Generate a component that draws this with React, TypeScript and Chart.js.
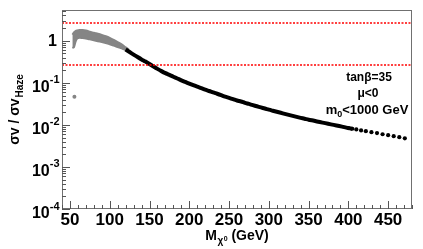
import React, { useEffect, useRef } from 'react';
import { Chart, registerables } from 'chart.js';

Chart.register(...registerables);

// ---- data ----
const xTicks = [50, 100, 150, 200, 250, 300, 350, 400, 450];
const yTickExps = [-4, -3, -2, -1, 0];
const xMin = 40;
const xMax = 480;
const yMin = 1e-4;
const yMax = 5.4;

// grey band (earlier points) : edges of the dense cloud
const bandMass = [53, 55, 57, 59, 62, 66, 70, 75, 80, 85, 90, 95, 100, 105, 110, 115, 120, 124];
const bandUpper = [1.4, 1.58, 1.7, 1.76, 1.8, 1.8, 1.75, 1.65, 1.55, 1.47, 1.38, 1.28, 1.17, 1.05, 0.93, 0.82, 0.7, 0.62];
const bandLower = [0.68, 0.7, 0.95, 1.13, 1.18, 1.16, 1.13, 1.08, 1.03, 0.98, 0.93, 0.88, 0.83, 0.77, 0.71, 0.66, 0.6, 0.56];

// single grey outlier
const outlierMass = [55.6];
const outlierVal = [0.047];

// black points: dense part (merged into a thick line) and sparse tail
const curveMass = [
  120, 125, 130, 135, 140, 145, 150, 155, 160, 165, 170, 175, 180, 185, 190, 195, 200, 205, 210, 215,
  220, 225, 230, 235, 240, 245, 250, 255, 260, 265, 270, 275, 280, 285, 290, 295, 300, 305, 310, 315,
  320, 325, 330, 335, 340, 345, 350, 357, 364, 371, 378, 385, 392, 399, 405,
];
const curveVal = [
  0.62, 0.54, 0.47, 0.41, 0.36, 0.32, 0.28, 0.245, 0.215, 0.19, 0.17, 0.155, 0.14, 0.127, 0.115, 0.105, 0.096, 0.088, 0.081, 0.075,
  0.069, 0.064, 0.059, 0.055, 0.051, 0.047, 0.044, 0.041, 0.038, 0.036, 0.0335, 0.0315, 0.0295, 0.0277, 0.026, 0.0245, 0.023, 0.0217, 0.0205, 0.0194,
  0.0183, 0.0173, 0.0164, 0.0155, 0.0147, 0.014, 0.0133, 0.0125, 0.0117, 0.011, 0.0103, 0.0097, 0.0091, 0.0085, 0.0081,
];
const tailMass = [400, 405, 410, 416, 422, 429, 436, 443, 450, 457, 464, 471];
const tailVal = [0.0084, 0.0081, 0.0078, 0.0074, 0.0071, 0.0067, 0.0064, 0.006, 0.0057, 0.0054, 0.0051, 0.0048];

// reference (red dotted) levels
const refLevels = [2.6, 0.26];

const yTitleMain = 'σv / σv';
const yTitleSub = 'Haze';
const xTitleMain = 'M';
const xTitleSub = 'χ';
const xTitleSup = '0';
const xTitleRest = ' (GeV)';
const annoLine1 = 'tanβ=35';
const annoLine2 = 'μ<0';
const annoLine3a = 'm';
const annoLine3sub = '0';
const annoLine3b = '<1000 GeV';

const FONT = '"Liberation Sans", Arial, Helvetica, sans-serif';
const GREY = '#858585';

const refLinePlugin = {
  id: 'refLines',
  afterDatasetsDraw(chart: any) {
    const ctx = chart.ctx as CanvasRenderingContext2D;
    const xs = chart.scales.x;
    const ys = chart.scales.y;
    ctx.save();
    ctx.strokeStyle = 'rgb(255, 0, 0)';
    ctx.lineWidth = 1.6;
    ctx.setLineDash([2, 1.5]);
    for (const lv of refLevels) {
      const py = Math.round(ys.getPixelForValue(lv));
      ctx.beginPath();
      ctx.moveTo(xs.getPixelForValue(xMin), py);
      ctx.lineTo(xs.getPixelForValue(xMax), py);
      ctx.stroke();
    }
    ctx.restore();
  },
};

const decorPlugin = {
  id: 'decor',
  afterDraw(chart: any) {
    const ctx = chart.ctx as CanvasRenderingContext2D;
    const { left, right, top, bottom } = chart.chartArea;
    const xs = chart.scales.x;
    const ys = chart.scales.y;
    ctx.save();

    // frame
    ctx.strokeStyle = '#707070';
    ctx.lineWidth = 1;
    ctx.strokeRect(left + 0.5, top + 0.5, right - left - 1, bottom - top - 1);

    // x ticks (inside)
    ctx.strokeStyle = '#555';
    ctx.beginPath();
    for (let v = xMin; v <= xMax; v += 10) {
      const px = Math.round(xs.getPixelForValue(v)) + 0.5;
      const len = v % 50 === 0 ? 8 : 4;
      ctx.moveTo(px, bottom);
      ctx.lineTo(px, bottom - len);
    }
    // y ticks (inside)
    for (const e of yTickExps) {
      for (let k = 1; k <= 9; k++) {
        const val = k * Math.pow(10, e);
        if (val < yMin || val > yMax) continue;
        const py = Math.round(ys.getPixelForValue(val)) + 0.5;
        const len = k === 1 ? 8 : 4;
        ctx.moveTo(left, py);
        ctx.lineTo(left + len, py);
      }
    }
    ctx.stroke();

    // y labels
    ctx.fillStyle = '#000';
    ctx.textBaseline = 'middle';
    ctx.textAlign = 'right';
    for (const e of yTickExps) {
      const py = ys.getPixelForValue(Math.pow(10, e));
      if (e === 0) {
        ctx.font = `bold 16px ${FONT}`;
        ctx.fillText('1', 57, py + 1);
      } else {
        const expStr = String(e);
        ctx.font = `bold 11px ${FONT}`;
        const ew = ctx.measureText(expStr).width;
        ctx.fillText(expStr, 59.5, py - 2.5);
        ctx.font = `bold 16px ${FONT}`;
        ctx.fillText('10', 59.5 - ew, py + 4.5);
      }
    }

    // y title (rotated)
    ctx.save();
    ctx.translate(18.5, (top + bottom) / 2);
    ctx.rotate(-Math.PI / 2);
    ctx.textAlign = 'left';
    ctx.textBaseline = 'alphabetic';
    ctx.font = `bold 14px ${FONT}`;
    const mw = ctx.measureText(yTitleMain).width;
    ctx.font = `bold 10px ${FONT}`;
    const sw = ctx.measureText(yTitleSub).width;
    const tot = mw + sw + 1;
    ctx.font = `bold 14px ${FONT}`;
    ctx.fillText(yTitleMain, -tot / 2, 0);
    ctx.font = `bold 10px ${FONT}`;
    ctx.fillText(yTitleSub, -tot / 2 + mw + 1, 4);
    ctx.restore();

    // x title
    ctx.textAlign = 'left';
    ctx.textBaseline = 'alphabetic';
    ctx.font = `bold 14px ${FONT}`;
    const w1 = ctx.measureText(xTitleMain).width;
    const w4 = ctx.measureText(xTitleRest).width;
    ctx.font = `bold 10px ${FONT}`;
    const w2 = ctx.measureText(xTitleSub).width;
    ctx.font = `bold 7px ${FONT}`;
    const w3 = ctx.measureText(xTitleSup).width;
    const xt = w1 + w2 + w3 + w4 + 1;
    let cx = (left + right) / 2 - xt / 2;
    const base = 240;
    ctx.font = `bold 14px ${FONT}`;
    ctx.fillText(xTitleMain, cx, base);
    cx += w1 + 0.5;
    ctx.font = `bold 10px ${FONT}`;
    ctx.fillText(xTitleSub, cx, base + 4);
    cx += w2 + 0.5;
    ctx.font = `bold 7px ${FONT}`;
    ctx.fillText(xTitleSup, cx, base + 0.5);
    cx += w3;
    ctx.font = `bold 14px ${FONT}`;
    ctx.fillText(xTitleRest, cx, base);

    // annotation
    const ax = 367;
    ctx.textAlign = 'center';
    ctx.font = `bold 12px ${FONT}`;
    ctx.fillText(annoLine1, ax + 2, 81);
    ctx.fillText(annoLine2, ax + 1, 97);
    ctx.font = `bold 13px ${FONT}`;
    const a1 = ctx.measureText(annoLine3a).width;
    const a3 = ctx.measureText(annoLine3b).width;
    ctx.font = `bold 9px ${FONT}`;
    const a2 = ctx.measureText(annoLine3sub).width;
    let tx = ax - (a1 + a2 + a3) / 2;
    ctx.textAlign = 'left';
    ctx.font = `bold 13px ${FONT}`;
    ctx.fillText(annoLine3a, tx, 113.5);
    tx += a1;
    ctx.font = `bold 9px ${FONT}`;
    ctx.fillText(annoLine3sub, tx, 116.5);
    tx += a2;
    ctx.font = `bold 13px ${FONT}`;
    ctx.fillText(annoLine3b, tx, 113.5);

    ctx.restore();
  },
};

export default function App() {
  const ref = useRef<HTMLCanvasElement | null>(null);

  useEffect(() => {
    document.body.style.margin = '0';
    const canvas = ref.current;
    if (!canvas) return;

    const chart = new Chart(canvas, {
      type: 'line',
      data: {
        datasets: [
          {
            data: bandMass.map((m, i) => ({ x: m, y: bandUpper[i] })),
            borderColor: GREY,
            borderWidth: 2,
            backgroundColor: GREY,
            pointRadius: 0,
            tension: 0.3,
            fill: '+1',
            order: 3,
          },
          {
            data: bandMass.map((m, i) => ({ x: m, y: bandLower[i] })),
            borderColor: GREY,
            borderWidth: 2,
            pointRadius: 0,
            tension: 0.3,
            fill: false,
            order: 3,
          },
          {
            data: outlierMass.map((m, i) => ({ x: m, y: outlierVal[i] })),
            showLine: false,
            pointRadius: 2,
            pointBackgroundColor: GREY,
            pointBorderWidth: 0,
            order: 2,
          },
          {
            data: curveMass.map((m, i) => ({ x: m, y: curveVal[i] })),
            borderColor: '#000',
            borderWidth: 4,
            tension: 0.3,
            pointRadius: 0,
            fill: false,
            order: 1,
          },
          {
            data: tailMass.map((m, i) => ({ x: m, y: tailVal[i] })),
            showLine: false,
            pointRadius: 2.1,
            pointBackgroundColor: '#000',
            pointBorderWidth: 0,
            order: 1,
          },
        ] as any,
      },
      options: {
        animation: false,
        responsive: false,
        maintainAspectRatio: false,
        layout: { padding: { top: 10, right: 11, left: 0, bottom: 0 } },
        plugins: {
          legend: { display: false },
          tooltip: { enabled: false },
          title: { display: false },
        },
        scales: {
          x: {
            type: 'linear',
            min: xMin,
            max: xMax,
            grid: { display: false, drawTicks: false, tickLength: 0 },
            border: { display: false },
            ticks: {
              color: '#000',
              font: { family: FONT, weight: 'bold', size: 17 },
              padding: 1,
              maxRotation: 0,
              autoSkip: false,
            },
            afterBuildTicks: (scale: any) => {
              scale.ticks = xTicks.map((v) => ({ value: v }));
            },
            afterFit: (scale: any) => {
              scale.height = 40;
            },
          },
          y: {
            type: 'logarithmic',
            min: yMin,
            max: yMax,
            grid: { display: false },
            border: { display: false },
            ticks: { display: false },
            afterFit: (scale: any) => {
              scale.width = 62;
            },
          },
        },
      } as any,
      plugins: [refLinePlugin, decorPlugin],
    });

    return () => chart.destroy();
  }, []);

  return (
    <div style={{ position: 'absolute', left: 0, top: 0, width: 423, height: 249, background: '#fff' }}>
      <canvas ref={ref} width={423} height={249} style={{ display: 'block', width: 423, height: 249 }} />
    </div>
  );
}
